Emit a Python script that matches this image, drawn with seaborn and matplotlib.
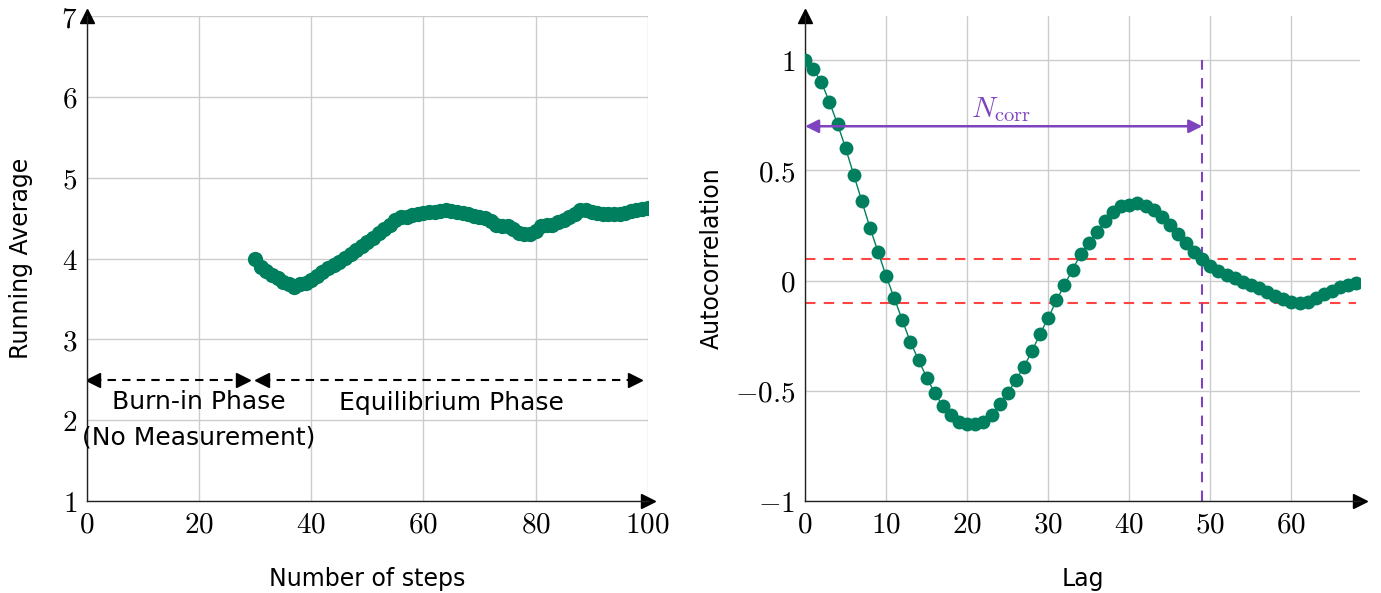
import matplotlib
matplotlib.use("Agg")
import matplotlib.pyplot as plt
import seaborn as sns
import pandas as pd

sns.set_style("white")
plt.rcParams["font.family"] = ["DejaVu Sans"]
plt.rcParams["mathtext.fontset"] = "cm"
plt.rcParams["text.color"] = "black"
plt.rcParams["axes.labelcolor"] = "black"

GREEN = "#007f5f"
PURPLE = "#7e44c0"
RED = "#ff4444"
GRID = "#cccccc"

# left panel: running average after burn-in
steps = list(range(30, 101))
running_avg = [
    4.00, 3.90, 3.85, 3.80, 3.76, 3.71, 3.68, 3.65, 3.68, 3.70,
    3.73, 3.78, 3.83, 3.88, 3.92, 3.96, 4.01, 4.06, 4.10, 4.15,
    4.20, 4.25, 4.31, 4.36, 4.42, 4.48, 4.51, 4.52, 4.54, 4.55,
    4.56, 4.57, 4.58, 4.59, 4.60, 4.59, 4.58, 4.56, 4.55, 4.53,
    4.52, 4.50, 4.46, 4.41, 4.40, 4.40, 4.37, 4.31, 4.30, 4.30,
    4.34, 4.40, 4.41, 4.42, 4.45, 4.48, 4.51, 4.55, 4.60, 4.60,
    4.58, 4.56, 4.55, 4.55, 4.55, 4.55, 4.56, 4.59, 4.60, 4.61,
    4.63,
]
left_xticks = [0, 20, 40, 60, 80, 100]
left_yticks = [1, 2, 3, 4, 5, 6, 7]

# right panel: autocorrelation vs lag
lags = list(range(0, 69))
autocorr = [
    1.00, 0.96, 0.90, 0.81, 0.71, 0.60, 0.48, 0.36, 0.24, 0.13,
    0.02, -0.08, -0.18, -0.28, -0.36, -0.44, -0.51, -0.57, -0.61, -0.64,
    -0.65, -0.65, -0.64, -0.61, -0.56, -0.51, -0.45, -0.39, -0.32, -0.24,
    -0.17, -0.09, -0.02, 0.05, 0.12, 0.17, 0.22, 0.27, 0.31, 0.34,
    0.345, 0.35, 0.34, 0.32, 0.29, 0.25, 0.21, 0.17, 0.13, 0.10,
    0.065, 0.045, 0.025, 0.01, -0.005, -0.02, -0.035, -0.05, -0.07, -0.085,
    -0.095, -0.10, -0.095, -0.08, -0.06, -0.045, -0.03, -0.02, -0.01,
]
right_xticks = [0, 10, 20, 30, 40, 50, 60]
right_yticks = [-1, -0.5, 0, 0.5, 1]
n_corr = 49
threshold = 0.1

left_df = pd.DataFrame({"step": steps, "avg": running_avg})
right_df = pd.DataFrame({"lag": lags, "acf": autocorr})

fig = plt.figure(figsize=(13.81, 5.93), dpi=100)
ax1 = fig.add_axes([0.063, 0.155, 0.406, 0.818])
ax2 = fig.add_axes([0.583, 0.155, 0.402, 0.818])


def style_axis(ax, xticks, yticks):
    ax.set_xticks(xticks)
    ax.set_yticks(yticks)
    ax.set_xticklabels([f"${t:g}$" for t in xticks], fontsize=21)
    ax.set_yticklabels([f"${t:g}$" for t in yticks], fontsize=21)
    ax.grid(True, color=GRID, linewidth=1)
    ax.set_axisbelow(True)
    for s in ["top", "right"]:
        ax.spines[s].set_visible(False)
    for s in ["left", "bottom"]:
        ax.spines[s].set_color("#222222")
        ax.spines[s].set_linewidth(1.0)
    ax.tick_params(direction="inout", length=8, width=1, color="#888888", pad=3,
                   labelcolor="black")
    # arrow heads at the ends of the axes
    ax.plot(1, 0, marker=">", color="black", markersize=10, transform=ax.transAxes, clip_on=False)
    ax.plot(0, 1, marker="^", color="black", markersize=10, transform=ax.transAxes, clip_on=False)


# left panel
sns.lineplot(data=left_df, x="step", y="avg", ax=ax1, color=GREEN, linewidth=1,
             marker="o", markersize=11, markeredgewidth=0)
ax1.set_xlim(0, 100)
ax1.set_ylim(1, 7)
style_axis(ax1, left_xticks, left_yticks)
ax1.set_xlabel("Number of steps", fontsize=17, labelpad=20)
ax1.set_ylabel("Running Average", fontsize=17, labelpad=20)

for x0, x1 in [(1.0, 27.8), (31.2, 97.8)]:
    ax1.plot([x0, x1], [2.5, 2.5], color="black", linestyle=(0, (4, 3)), linewidth=1.5)
    ax1.plot([x0], [2.5], marker="<", color="black", markersize=10)
    ax1.plot([x1], [2.5], marker=">", color="black", markersize=10)
ax1.text(20, 2.22, "Burn-in Phase", ha="center", va="center", fontsize=18)
ax1.text(20, 1.79, "(No Measurement)", ha="center", va="center", fontsize=18)
ax1.text(65, 2.21, "Equilibrium Phase", ha="center", va="center", fontsize=18)

# right panel
sns.lineplot(data=right_df, x="lag", y="acf", ax=ax2, color=GREEN, linewidth=1,
             marker="o", markersize=10, markeredgewidth=0, zorder=3)
ax2.set_xlim(0, 68.5)
ax2.set_ylim(-1, 1.2)
style_axis(ax2, right_xticks, right_yticks)
ax2.set_xlabel("Lag", fontsize=17, labelpad=20)
ax2.set_ylabel("Autocorrelation", fontsize=17, labelpad=8)

for yv in [threshold, -threshold]:
    ax2.plot([0, 68], [yv, yv], color=RED, linestyle=(0, (5, 4)), linewidth=1.5, zorder=2)
ax2.plot([n_corr, n_corr], [-1, 1], color=PURPLE, linestyle=(0, (5, 4)), linewidth=1.5, zorder=2)
ax2.annotate("", xy=(0, 0.7), xytext=(n_corr, 0.7),
             arrowprops=dict(arrowstyle="<|-|>", color=PURPLE, lw=1.8,
                             mutation_scale=20, shrinkA=0, shrinkB=0), zorder=4)
ax2.text(24.2, 0.775, r"$N_{\rm corr}$", color=PURPLE, ha="center", va="center", fontsize=21)

fig.savefig("out.png", dpi=100)
